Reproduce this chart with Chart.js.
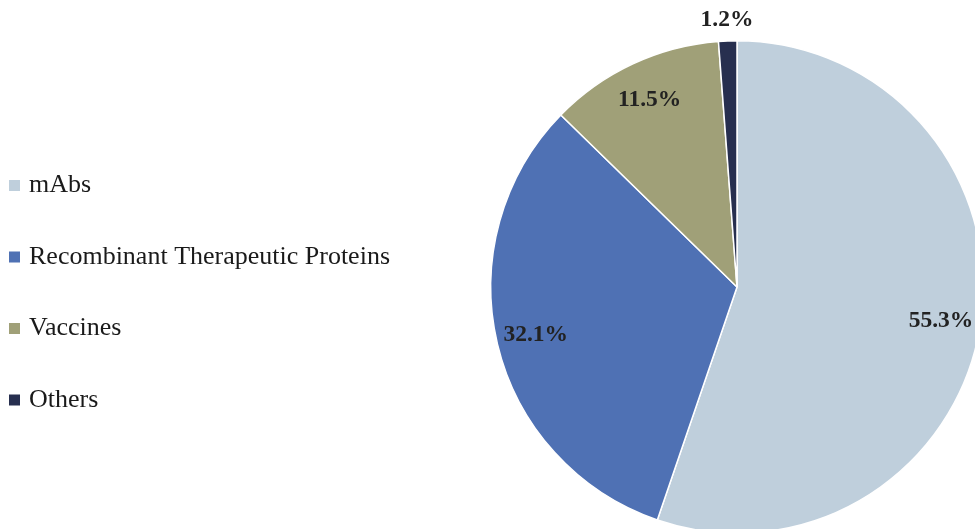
<!DOCTYPE html>
<html>
<head>
<meta charset="utf-8">
<script src="https://cdn.jsdelivr.net/npm/chart.js@4.4.0/dist/chart.umd.min.js"></script>
<style>
  html, body { margin: 0; padding: 0; background: #fff; overflow: hidden; }
  #wrap { position: absolute; left: 0; top: 0; width: 995px; height: 545px; }
</style>
</head>
<body>
<div id="wrap"><canvas id="myChart" width="995" height="545"></canvas></div>
<script>
const labels = ['mAbs', 'Recombinant Therapeutic Proteins', 'Vaccines', 'Others'];
const shares = [55.3, 32.1, 11.5, 1.2];
const pctLabels = ['55.3%', '32.1%', '11.5%', '1.2%'];

const COLORS = ['#BFCFDC', '#4F71B4', '#A0A078', '#272F4F'];

// legend on the left, drawn by hand
const sideLegend = {
  id: 'sideLegend',
  afterDraw(chart) {
    const ctx = chart.ctx;
    const names = chart.data.labels;
    const cols = chart.data.datasets[0].backgroundColor;
    ctx.save();
    ctx.font = '26px "Liberation Serif", "Times New Roman", serif';
    ctx.textBaseline = 'alphabetic';
    ctx.textAlign = 'left';
    for (let i = 0; i < names.length; i++) {
      const y = 192 + i * 71.5;
      ctx.fillStyle = cols[i];
      ctx.fillRect(9, y - 12, 11, 11);
      ctx.fillStyle = '#1a1a1a';
      ctx.fillText(names[i], 29, y);
    }
    ctx.restore();
  }
};

// percent labels on slices
const sliceLabels = {
  id: 'sliceLabels',
  afterDatasetsDraw(chart) {
    const ctx = chart.ctx;
    const meta = chart.getDatasetMeta(0);
    ctx.save();
    ctx.font = 'bold 23.5px "Liberation Serif", "Times New Roman", serif';
    ctx.fillStyle = '#222';
    ctx.textAlign = 'center';
    ctx.textBaseline = 'middle';
    meta.data.forEach((arc, i) => {
      const p = arc.getProps(['x', 'y', 'startAngle', 'endAngle', 'outerRadius'], true);
      const mid = (p.startAngle + p.endAngle) / 2;
      const k = shares[i] < 3 ? 1.085 : 0.84;
      const r = p.outerRadius * k;
      ctx.fillText(pctLabels[i], p.x + Math.cos(mid) * r, p.y + Math.sin(mid) * r);
    });
    ctx.restore();
  }
};

const config = {
  type: 'pie',
  data: {
    labels: labels,
    datasets: [{
      data: shares,
      backgroundColor: COLORS,
      borderColor: '#ffffff',
      borderWidth: 1.5
    }]
  },
  options: {
    responsive: false,
    animation: false,
    layout: { padding: { left: 490, top: 40, right: 11, bottom: 11 } },
    plugins: {
      legend: { display: false },
      tooltip: { enabled: false }
    }
  },
  plugins: [sideLegend, sliceLabels]
};

var myChart = new Chart(document.getElementById('myChart'), config);
</script>
</body>
</html>
